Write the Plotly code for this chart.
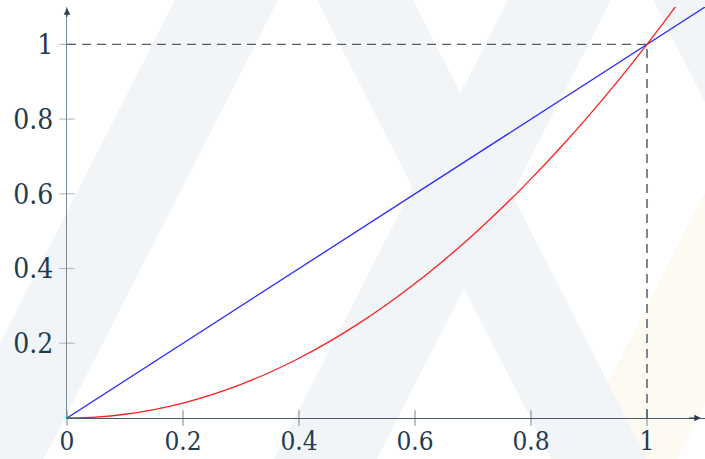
import plotly.graph_objects as go

# --- data -------------------------------------------------------------
# identity line y = x
line_x = [0.0, 1.1]
line_y = [0.0, 1.1]

# parabola y = x^2, sampled values
curve_x = [0.0, 0.05, 0.1, 0.15, 0.2, 0.25, 0.3, 0.35, 0.4, 0.45, 0.5, 0.55,
           0.6, 0.65, 0.7, 0.75, 0.8, 0.85, 0.9, 0.95, 1.0, 1.05]
curve_y = [0.0, 0.0025, 0.01, 0.0225, 0.04, 0.0625, 0.09, 0.1225, 0.16, 0.2025,
           0.25, 0.3025, 0.36, 0.4225, 0.49, 0.5625, 0.64, 0.7225, 0.81, 0.9025,
           1.0, 1.1025]

# axis ticks
x_ticks = [0, 0.2, 0.4, 0.6, 0.8, 1]
x_tick_labels = ["0", "0.2", "0.4", "0.6", "0.8", "1"]
y_ticks = [0.2, 0.4, 0.6, 0.8, 1]
y_tick_labels = ["0.2", "0.4", "0.6", "0.8", "1"]

# reference point where both curves meet
meet_x = 1
meet_y = 1

# --- layout geometry --------------------------------------------------
FIG_W, FIG_H = 705, 459
L, T, R, B = 67, 7, 0, 41
PW, PH = FIG_W - L - R, FIG_H - T - B

TEXT_COLOR = "#1f3b50"
FONT = "DejaVu Serif Condensed, DejaVu Serif, serif"


def px(X):
    return (X - L) / PW


def py(Y):
    return (T + PH - Y) / PH


# light background emblem made of slanted bands
SLOPE = 0.51


def band(a, b, sign, color):
    ys = (-30, FIG_H + 30)
    pts = [(a + sign * SLOPE * ys[0], ys[0]), (b + sign * SLOPE * ys[0], ys[0]),
           (b + sign * SLOPE * ys[1], ys[1]), (a + sign * SLOPE * ys[1], ys[1])]
    path = "M " + " L ".join(f"{px(x):.4f},{py(y):.4f}" for x, y in pts) + " Z"
    return dict(type="path", xref="paper", yref="paper", path=path,
                fillcolor=color, line=dict(width=0), layer="below")


GREY = "#f2f5f7"
CREAM = "#fdfaf2"
shapes = [
    band(803, 911, -1, CREAM),
    band(175, 278, -1, GREY),
    band(317, 413, +1, GREY),
    band(508, 611, -1, GREY),
    band(653, 756, +1, GREY),
]

# dashed guides to the meeting point
shapes += [
    dict(type="line", xref="x", yref="y", x0=0, y0=meet_y, x1=meet_x, y1=meet_y,
         line=dict(color="#5a5e62", width=1.3, dash="9px,6px"), layer="above"),
    dict(type="line", xref="x", yref="y", x0=meet_x, y0=0, x1=meet_x, y1=meet_y,
         line=dict(color="#34495e", width=1.3, dash="9px,6px"), layer="above"),
]

fig = go.Figure()

# tick marks crossing the axes
fig.add_trace(go.Scatter(
    x=[0] * len(y_ticks), y=y_ticks, mode="markers", cliponaxis=False,
    hoverinfo="skip", showlegend=False,
    marker=dict(symbol="line-ew", size=11, line=dict(color="#b8bcbf", width=1.2)),
))
fig.add_trace(go.Scatter(
    x=x_ticks, y=[0] * len(x_ticks), mode="markers", cliponaxis=False,
    hoverinfo="skip", showlegend=False,
    marker=dict(symbol="line-ns", size=11, line=dict(color="#8c99a3", width=1.2)),
))

fig.add_trace(go.Scatter(
    x=line_x, y=line_y, mode="lines", showlegend=False,
    line=dict(color="#2a2aff", width=1.3),
))
fig.add_trace(go.Scatter(
    x=curve_x, y=curve_y, mode="lines", showlegend=False,
    line=dict(color="#ff2020", width=1.3, shape="spline"),
))

# arrow heads at the axis ends
annotations = [
    dict(x=0, y=1.097, ax=0, ay=1.07, xref="x", yref="y", axref="x", ayref="y",
         text="", showarrow=True, arrowhead=2, arrowsize=1.1, arrowwidth=1.2,
         arrowcolor="#2c3e50", standoff=0),
    dict(x=1.093, y=0, ax=1.07, ay=0, xref="x", yref="y", axref="x", ayref="y",
         text="", showarrow=True, arrowhead=2, arrowsize=1.1, arrowwidth=1.2,
         arrowcolor="#2c3e50", standoff=0),
]

fig.update_layout(
    width=FIG_W, height=FIG_H,
    margin=dict(l=L, r=R, t=T, b=B, pad=0, autoexpand=False),
    paper_bgcolor="white", plot_bgcolor="rgba(0,0,0,0)",
    shapes=shapes, annotations=annotations,
    showlegend=False,
    xaxis=dict(
        range=[0, 1.1], showgrid=False, zeroline=False, automargin=False,
        showline=True, linecolor="#46596a", linewidth=1.3,
        tickmode="array", tickvals=x_ticks, ticktext=x_tick_labels,
        ticks="", ticklabelstandoff=0,
        tickfont=dict(family=FONT, size=26, color=TEXT_COLOR),
        fixedrange=True,
    ),
    yaxis=dict(
        range=[0, 1.1], showgrid=False, zeroline=False, automargin=False,
        showline=True, linecolor="#7b8b96", linewidth=1.3,
        tickmode="array", tickvals=y_ticks, ticktext=y_tick_labels,
        ticks="", ticklabelstandoff=7,
        tickfont=dict(family=FONT, size=28, color=TEXT_COLOR),
        fixedrange=True,
    ),
)

fig.write_html("out.html")
